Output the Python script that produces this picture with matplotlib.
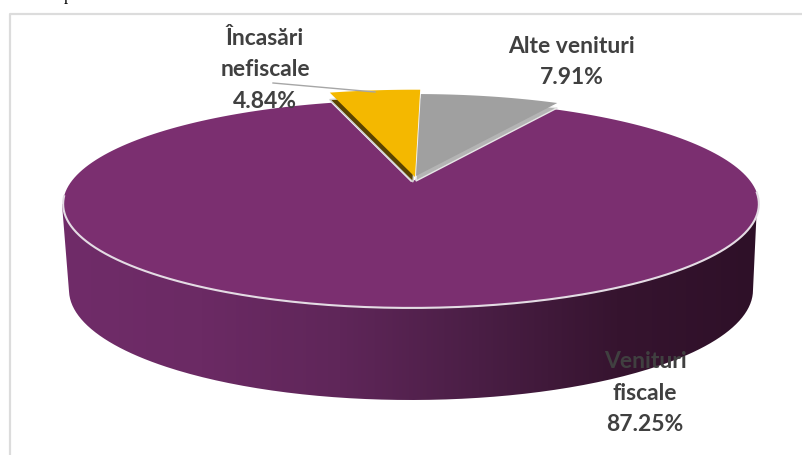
"""Tilted 3D pie of revenue shares, drawn on an axes that uses image pixels."""
import numpy as np
import matplotlib
matplotlib.use("Agg")
import matplotlib.pyplot as plt
from matplotlib.colors import LinearSegmentedColormap
from matplotlib.patches import Polygon, PathPatch
from matplotlib.path import Path

# data
labels = ["Alte venituri", "Venituri\nfiscale", "Încasări\nnefiscale"]
shares = [7.91, 87.25, 4.84]
colors = ["#a0a0a0", "#7b2f70", "#f4b800"]

# perspective of the pie top, in pixels
CX, CY = 411, 182
RX, RY, TILT = 340, 99.3, 0.2115
START = 1.0

side_stops = ["#702c69", "#6b2a64", "#5f2659", "#4a1e45", "#36142f", "#2e1028"]


def project(theta, radius=1.0, off=(0, 0)):
    """Map clockwise angles from the top of the unit circle onto the tilted disc."""
    t = np.radians(theta)
    x = radius * np.sin(t)
    y = radius * np.cos(t)
    den = 1 + TILT * y
    return np.column_stack([CX + off[0] + RX * x / den, CY + off[1] - RY * y / den])


def slice_points(a0, a1, radius=1.0, off=(0, 0)):
    arc = project(np.linspace(a0, a1, 200), radius, off)
    return np.vstack([[CX + off[0], CY + off[1]], arc])


fig = plt.figure(figsize=(8.02, 4.55), dpi=100)
ax = fig.add_axes([0, 0, 1, 1])
ax.axis("off")

# outer frame, cut by the edge of the picture
ax.plot([9.5, 9.5, 810], [460, 13.5, 13.5], color="#dcdcdc", lw=1.6, zorder=1)

# side of the pie
t = np.linspace(-90, 90, 200)
bottom = np.column_stack([411 + 342 * np.sin(np.radians(t)), 290 + 110 * np.cos(np.radians(t))])
side = np.vstack([[62, 204], bottom, [757, 204], [62, 204]])
cmap = LinearSegmentedColormap.from_list("side", side_stops)
img = ax.imshow(np.linspace(0, 1, 256)[None, :], cmap=cmap, aspect="auto",
                extent=(62, 757, 402, 204), zorder=2)
patch = PathPatch(Path(side), fc="none", ec="none", transform=ax.transData)
ax.add_patch(patch)
img.set_clip_path(patch)

angles = np.cumsum([0] + shares) * 3.6 + START

# main slice
main = slice_points(angles[1], angles[2])
ax.add_patch(Polygon(main, fc=colors[1], ec="none", zorder=3))
front = project(np.linspace(96, 262, 200))
ax.plot(front[:, 0], front[:, 1], color="#e4dce4", lw=1.5, zorder=4)

# pulled out slices, each with its thin side
a0, a1 = angles[0], angles[1]
ax.add_patch(Polygon(slice_points(a0, a1, off=(5, -1)), fc="#b4b4b4", ec="#e6e6e6", lw=1.0, zorder=5))
ax.add_patch(Polygon(slice_points(a0, a1, off=(5, -6)), fc=colors[0], ec="none", zorder=6))

a0, a1 = angles[2], angles[3]
ax.add_patch(Polygon(slice_points(a0, a1, 1.05, (2, 0)), fc="#5a4300", ec="#cfcfcf", lw=1.0, zorder=5))
ax.add_patch(Polygon(slice_points(a0, a1, 1.08, (4, -5)), fc=colors[2], ec="none", zorder=6))

# leader line of the small slice
ax.plot([273, 375], [83, 92], color="#a6a6a6", lw=1.0, zorder=7)

# labels
label_pos = [(572, 62), (645, 393), (265, 70)]
for label, share, (x, y) in zip(labels, shares, label_pos):
    ax.text(x, y, f"{label}\n{share:.2f}%", ha="center", va="center", color="#404040",
            family="Lato", fontweight="bold", fontsize=16.5, linespacing=1.6, zorder=8)

# end of the caption line above the frame
ax.text(64, 0, "p", family="Liberation Serif", fontsize=12, color="black", va="baseline", clip_on=False)

ax.set_xlim(0, 802)
ax.set_ylim(455, 0)

fig.savefig("out.png", dpi=100)
